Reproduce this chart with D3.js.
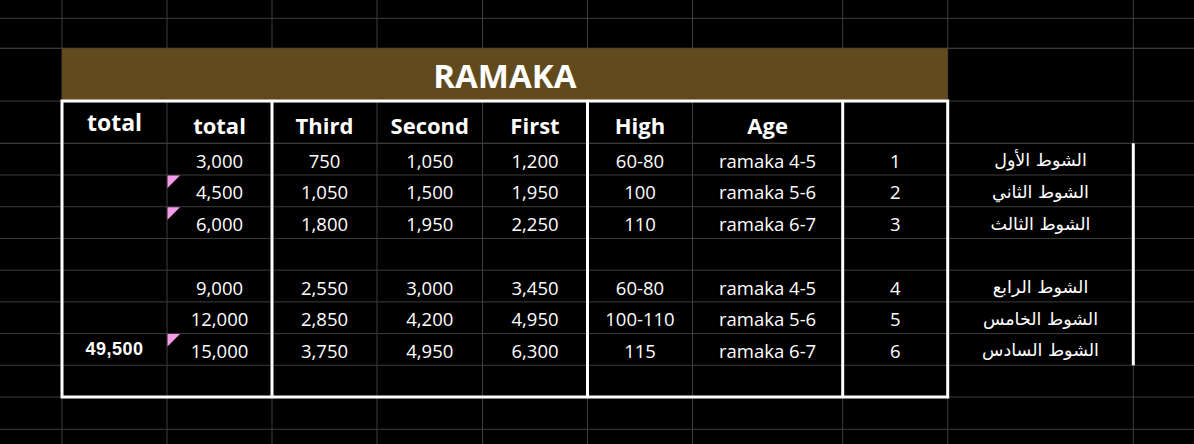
<!DOCTYPE html>
<html>
<head>
    <meta charset="utf-8">
    <title>RAMAKA</title>
    <style>
        body { margin: 0; background: #000; }
    </style>
</head>
<body>
    <script src="https://cdnjs.cloudflare.com/ajax/libs/d3/7.9.0/d3.min.js"></script>
    <script>

        // values (null = empty row between the two halves)
        const title = "RAMAKA";
        const headers = ["total", "total", "Third", "Second", "First", "High", "Age", ""];
        const roundNames = ["الشوط الأول", "الشوط الثاني", "الشوط الثالث", null, "الشوط الرابع", "الشوط الخامس", "الشوط السادس"];
        const roundNums = [1, 2, 3, null, 4, 5, 6];
        const ages = ["ramaka 4-5", "ramaka 5-6", "ramaka 6-7", null, "ramaka 4-5", "ramaka 5-6", "ramaka 6-7"];
        const highs = ["60-80", "100", "110", null, "60-80", "100-110", "115"];
        const first = [1200, 1950, 2250, null, 3450, 4950, 6300];
        const second = [1050, 1500, 1950, null, 3000, 4200, 4950];
        const third = [750, 1050, 1800, null, 2550, 2850, 3750];
        const totals = [3000, 4500, 6000, null, 9000, 12000, 15000];
        const grandTotal = [null, null, null, null, null, null, 49500];
        const commented = [false, true, true, false, false, false, true];

        const width = 1194, height = 444;
        const fmt = d3.format(",");

        // sheet layout (column widths / row heights in px)
        const colKeys = ["A", "gtotal", "total", "third", "second", "first", "high", "age", "num", "name", "K"];
        const colWidths = [62, 105, 105, 105, 105.5, 105, 105, 150.2, 105, 185.6, 70];
        const colEdges = d3.cumsum([0].concat(colWidths));
        const xLeft = d3.scaleOrdinal().domain(colKeys).range(colEdges.slice(0, -1));
        const xW = d3.scaleOrdinal().domain(colKeys).range(colWidths);
        const xMid = k => xLeft(k) + xW(k) / 2;

        const titleTop = 48.3, headTop = 101, bodyTop = 143.3, bodyBottom = 397;
        const y = d3.scaleBand()
            .domain(d3.range(8))
            .range([bodyTop, bodyBottom]);
        const sheetLines = [18.3, 48.3, titleTop, headTop, bodyTop]
            .concat(d3.range(9).map(i => bodyTop + i * y.bandwidth()))
            .concat([429.3]);

        const svg = d3.select("body")
            .append("svg")
            .attr("width", width)
            .attr("height", height)
            .style("background", "#000");

        // grid
        const grid = svg.append("g").attr("stroke", "#3d3d3d").attr("stroke-width", 1);
        grid.selectAll(".h")
            .data(sheetLines)
            .enter()
            .append("line")
            .attr("x1", 0).attr("x2", width)
            .attr("y1", d => d).attr("y2", d => d);
        grid.selectAll(".v")
            .data(colEdges.slice(1, -1))
            .enter()
            .append("line")
            .attr("x1", d => d).attr("x2", d => d)
            .attr("y1", 0).attr("y2", height);

        // title band
        const tableL = xLeft("gtotal"), tableR = xLeft("name");
        svg.append("rect")
            .attr("x", tableL).attr("y", titleTop)
            .attr("width", tableR - tableL).attr("height", headTop - titleTop)
            .attr("fill", "#614b1e");
        svg.append("text")
            .attr("x", (tableL + tableR) / 2).attr("y", (titleTop + headTop) / 2 + 1)
            .attr("text-anchor", "middle").attr("dominant-baseline", "central")
            .attr("fill", "#fff")
            .style("font", "700 33px 'Open Sans'")
            .text(title);

        // header
        const headKeys = ["gtotal", "total", "third", "second", "first", "high", "age", "num"];
        svg.append("g").selectAll("text")
            .data(headers)
            .enter()
            .append("text")
            .attr("x", (d, i) => xMid(headKeys[i]))
            .attr("y", (d, i) => i === 0 ? 122 : 125)
            .attr("text-anchor", "middle").attr("dominant-baseline", "central")
            .attr("fill", "#fff")
            .style("font", (d, i) => i === 0 ? "700 23px 'Open Sans'" : "700 22px 'Open Sans'")
            .text(d => d);

        // body cells
        const cols = [
            {key: "total", vals: totals.map(v => v == null ? "" : fmt(v))},
            {key: "third", vals: third.map(v => v == null ? "" : fmt(v))},
            {key: "second", vals: second.map(v => v == null ? "" : fmt(v))},
            {key: "first", vals: first.map(v => v == null ? "" : fmt(v))},
            {key: "high", vals: highs.map(v => v || "")},
            {key: "age", vals: ages.map(v => v || "")},
            {key: "num", vals: roundNums.map(v => v == null ? "" : String(v))}
        ];
        const body = svg.append("g");
        cols.forEach(c => {
            body.selectAll(null)
                .data(c.vals)
                .enter()
                .append("text")
                .attr("x", xMid(c.key))
                .attr("y", (d, i) => y(i) + y.bandwidth() / 2 + 1)
                .attr("text-anchor", "middle").attr("dominant-baseline", "central")
                .attr("fill", "#fff")
                .style("font", "400 18.5px 'Open Sans'")
                .text(d => d);
        });

        body.selectAll(null)
            .data(roundNames)
            .enter()
            .append("text")
            .attr("x", xMid("name"))
            .attr("y", (d, i) => y(i) + y.bandwidth() / 2 + 1)
            .attr("text-anchor", "middle").attr("dominant-baseline", "central")
            .attr("direction", "rtl")
            .attr("fill", "#fff")
            .style("font", "400 17.5px 'DejaVu Sans'")
            .text(d => d || "");

        body.selectAll(null)
            .data(grandTotal)
            .enter()
            .append("text")
            .attr("x", xMid("gtotal"))
            .attr("y", (d, i) => y(i) + y.bandwidth() / 2)
            .attr("text-anchor", "middle").attr("dominant-baseline", "central")
            .attr("fill", "#fff")
            .style("font", "700 18px 'Liberation Sans'")
            .style("letter-spacing", "0.5px")
            .text(d => d == null ? "" : fmt(d));

        // comment markers
        svg.append("g").selectAll("path")
            .data(commented.map((c, i) => ({c, i})).filter(d => d.c))
            .enter()
            .append("path")
            .attr("d", d => {
                const x0 = xLeft("total") + 0.5, y0 = y(d.i) + 0.5;
                return `M${x0},${y0}L${x0 + 12.5},${y0}L${x0},${y0 + 12.5}Z`;
            })
            .attr("fill", "#f59be8");

        // white borders
        const border = svg.append("g").attr("stroke", "#fff").attr("stroke-width", 3).attr("fill", "none");
        border.append("rect")
            .attr("x", tableL).attr("y", headTop)
            .attr("width", tableR - tableL).attr("height", bodyBottom - headTop);
        border.selectAll("line.sep")
            .data(["third", "high", "num"])
            .enter()
            .append("line")
            .attr("x1", d => xLeft(d)).attr("x2", d => xLeft(d))
            .attr("y1", headTop).attr("y2", bodyBottom);
        border.append("line")
            .attr("x1", xLeft("K")).attr("x2", xLeft("K"))
            .attr("y1", y(0)).attr("y2", y(6) + y.bandwidth());

    </script>
</body>
</html>
